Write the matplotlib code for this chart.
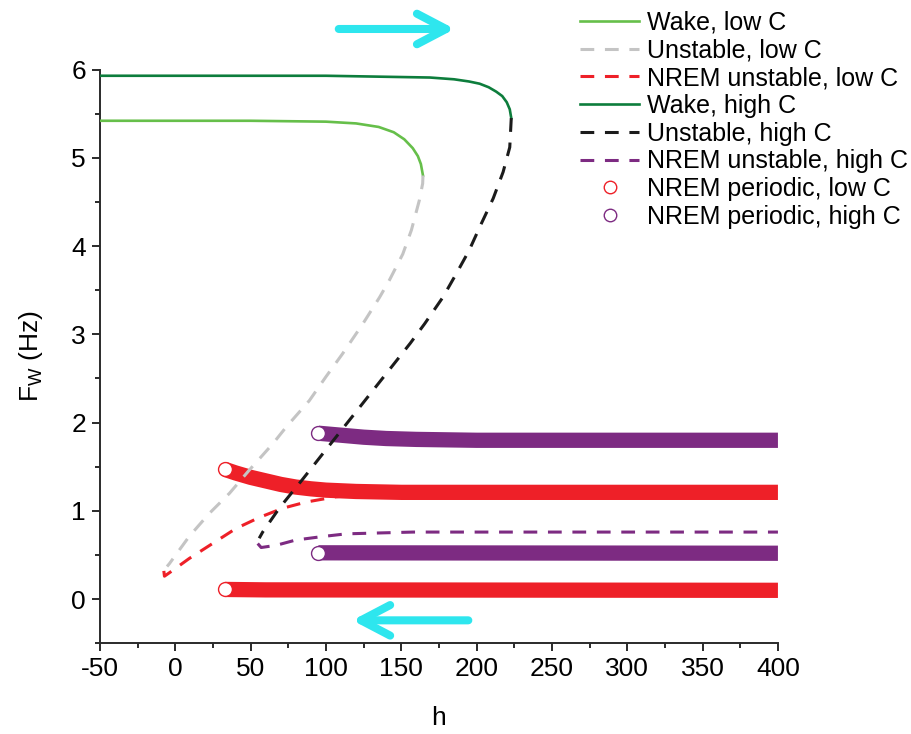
import numpy as np
import matplotlib
matplotlib.use("Agg")
import matplotlib.pyplot as plt
from matplotlib.lines import Line2D

plt.rcParams['font.family'] = ['Liberation Sans', 'DejaVu Sans']
plt.rcParams['mathtext.default'] = 'regular'
plt.rcParams['axes.unicode_minus'] = False

# --- data ---
wake_low_h = [-50, 0, 50, 100, 120, 135, 145, 152, 157.6, 161, 163, 164.4]
wake_low_F = [5.42, 5.42, 5.42, 5.41, 5.39, 5.35, 5.29, 5.21, 5.11, 5.02, 4.93, 4.80]

unst_low_h = [164.4, 164.2, 162, 156.7, 151, 142, 135.6, 124.5, 111, 100, 89, 73.6,
              64.7, 49, 36, 22.5, 9.2, -4, -5.5]
unst_low_F = [4.80, 4.71, 4.52, 4.18, 3.91, 3.61, 3.42, 3.12, 2.78, 2.52, 2.25, 1.95,
              1.76, 1.46, 1.20, 0.97, 0.71, 0.40, 0.37]

nrem_unst_low_h = [-7.6, -7.2, -3, 9.2, 24.7, 40.2, 55.7, 71.3, 86.8, 106.7, 120, 135]
nrem_unst_low_F = [0.32, 0.26, 0.31, 0.46, 0.63, 0.80, 0.925, 1.03, 1.10, 1.16, 1.18, 1.19]

wake_high_h = [-50, 0, 100, 169, 185, 195, 202, 208, 213, 217, 220, 222, 223]
wake_high_F = [5.93, 5.93, 5.93, 5.91, 5.89, 5.865, 5.84, 5.80, 5.75, 5.70, 5.63, 5.55, 5.45]

unst_high_h = [223, 222, 217.6, 211, 203, 195, 186.6, 177.6, 165.5, 156, 143.5, 130.5,
               118, 98, 84.6, 69, 58, 55.7]
unst_high_F = [5.45, 5.12, 4.84, 4.54, 4.25, 3.95, 3.69, 3.42, 3.12, 2.90, 2.63, 2.35,
               2.08, 1.65, 1.36, 1.03, 0.76, 0.69]

nrem_unst_high_h = [54.7, 57, 67, 80, 98, 113.5, 157.7, 400]
nrem_unst_high_F = [0.63, 0.585, 0.61, 0.67, 0.71, 0.74, 0.76, 0.76]

per_low_up_h = [33, 40, 50, 60, 70, 80, 90, 100, 120, 150, 200, 400]
per_low_up_F = [1.47, 1.43, 1.38, 1.34, 1.30, 1.27, 1.25, 1.235, 1.22, 1.21, 1.21, 1.21]
per_low_dn_h = [33, 60, 400]
per_low_dn_F = [0.11, 0.105, 0.10]

per_high_up_h = [95, 105, 115, 125, 140, 160, 200, 400]
per_high_up_F = [1.88, 1.865, 1.85, 1.835, 1.82, 1.81, 1.80, 1.80]
per_high_dn_h = [95, 400]
per_high_dn_F = [0.525, 0.52]

labels = ['Wake, low C', 'Unstable, low C', 'NREM unstable, low C',
          'Wake, high C', 'Unstable, high C', 'NREM unstable, high C',
          'NREM periodic, low C', 'NREM periodic, high C']

c_wake_low = '#66bf4a'
c_wake_high = '#0d7d3c'
c_gray = '#c4c4c4'
c_black = '#1b1b1b'
c_red = '#ee2028'
c_purple = '#7d2b82'
c_cyan = '#2ee6ee'

fig = plt.figure(figsize=(9.12, 7.34), dpi=100)
ax = fig.add_axes([0.1096, 0.1236, 0.7434, 0.7816])

dash = (0, (4.5, 3.5))
band_lw = 11

# periodic bands (thick) with open circle at the onset
for h, F, col in [(per_low_up_h, per_low_up_F, c_red), (per_low_dn_h, per_low_dn_F, c_red),
                  (per_high_up_h, per_high_up_F, c_purple), (per_high_dn_h, per_high_dn_F, c_purple)]:
    ax.plot(h, F, color=col, lw=band_lw, solid_capstyle='butt', zorder=2)
    ax.plot(h[0], F[0], 'o', ms=10, mfc='white', mec=col, mew=1.0, zorder=3)

l1, = ax.plot(wake_low_h, wake_low_F, color=c_wake_low, lw=1.9, zorder=4)
l2, = ax.plot(unst_low_h, unst_low_F, color=c_gray, lw=2.2, ls=dash, zorder=4)
l3, = ax.plot(nrem_unst_low_h, nrem_unst_low_F, color=c_red, lw=2.2, ls=dash, zorder=4)
l4, = ax.plot(wake_high_h, wake_high_F, color=c_wake_high, lw=1.9, zorder=4)
l5, = ax.plot(unst_high_h, unst_high_F, color=c_black, lw=2.2, ls=dash, zorder=4)
l6, = ax.plot(nrem_unst_high_h, nrem_unst_high_F, color=c_purple, lw=2.2, ls=dash, zorder=4)
l7 = Line2D([], [], ls='none', marker='o', ms=9, mfc='white', mec=c_red, mew=1.0)
l8 = Line2D([], [], ls='none', marker='o', ms=9, mfc='white', mec=c_purple, mew=1.0)

# direction arrows
arrow_kw = dict(arrowstyle='->,head_length=2.1,head_width=1.1', lw=5.8, color=c_cyan,
                capstyle='round', joinstyle='round', mutation_scale=10, shrinkA=0, shrinkB=0)
ax.annotate('', xy=(185.5, 6.46), xytext=(108.5, 6.46), arrowprops=arrow_kw,
            annotation_clip=False)
ax.annotate('', xy=(117.5, -0.24), xytext=(194.5, -0.24), arrowprops=arrow_kw,
            annotation_clip=False)

ax.set_xlim(-50, 400)
ax.set_ylim(-0.5, 6)
ax.set_xticks(np.arange(-50, 401, 50))
ax.set_xticks(np.arange(-25, 400, 50), minor=True)
ax.set_yticks(np.arange(0, 7, 1))
ax.set_yticks(np.arange(-0.5, 6, 1), minor=True)

for s in ['top', 'right']:
    ax.spines[s].set_visible(False)
for s in ['left', 'bottom']:
    ax.spines[s].set_linewidth(1.4)
    ax.spines[s].set_color('#2a2a2a')
ax.tick_params(which='major', direction='out', length=6, width=1.4, color='#2a2a2a',
               labelsize=19, pad=4)
ax.tick_params(which='minor', direction='out', length=3.5, width=1.4, color='#2a2a2a')

ax.set_xlabel('h', fontsize=19, labelpad=18)
ax.set_ylabel('F$_W$ (Hz)', fontsize=19, labelpad=19)

fig.legend([l1, l2, l3, l4, l5, l6, l7, l8], labels, loc='upper right',
           bbox_to_anchor=(0.998, 0.989), frameon=False, fontsize=18,
           handlelength=2.35, handletextpad=0.3, labelspacing=0.15,
           borderaxespad=0.0, borderpad=0.1)

fig.savefig('out.png', dpi=100)
